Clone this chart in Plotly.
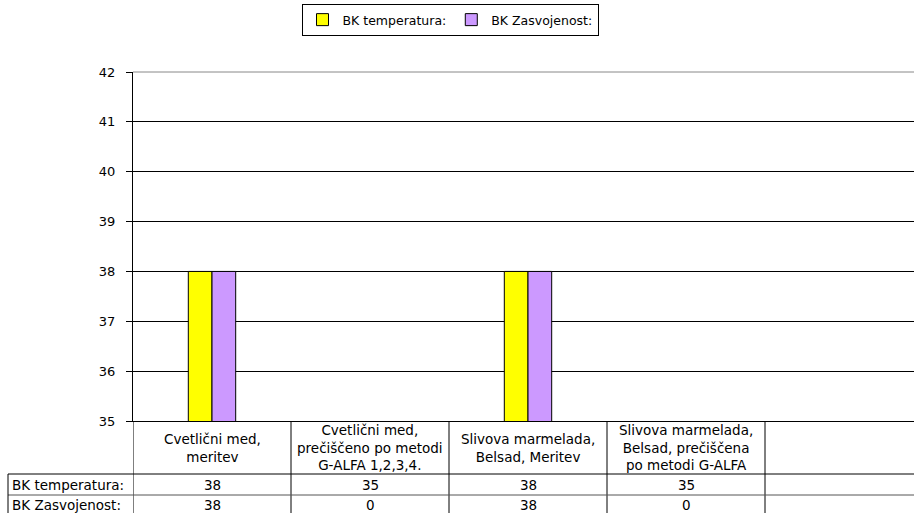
import plotly.graph_objects as go

# ---- data ----
categories = [
    "Cvetlični med,<br>meritev",
    "Cvetlični med,<br>prečiščeno po metodi<br>G-ALFA 1,2,3,4.",
    "Slivova marmelada,<br>Belsad, Meritev",
    "Slivova marmelada,<br>Belsad, prečiščena<br>po metodi G-ALFA",
    "",
]
series_names = ["BK temperatura:", "BK Zasvojenost:"]
bk_temperatura = [38, 35, 38, 35]
bk_zasvojenost = [38, 0, 38, 0]
series_colors = ["#FFFF00", "#CC99FF"]
y_ticks = [35, 36, 37, 38, 39, 40, 41, 42]

# ---- layout constants (pixels) ----
W, H = 914, 513
M_L, M_R, M_T, M_B = 133, 0, 72, 92
plot_h = H - M_T - M_B
plot_w = W - M_L - M_R
col_px = 158.0
FONT = "DejaVu Sans"
Y_MIN = y_ticks[0]


def py(pix):
    """pixel row -> paper y"""
    return (H - M_B - pix) / plot_h


def px(pix):
    return (pix - M_L) / plot_w


x_pos = list(range(len(categories)))
x_max = -0.5 + plot_w / col_px

fig = go.Figure()
for name, vals, col in zip(series_names, [bk_temperatura, bk_zasvojenost], series_colors):
    fig.add_trace(go.Bar(
        x=x_pos[:len(vals)], y=vals, name=name,
        marker=dict(color=col, line=dict(color="#000000",
                                         width=[1 if v > Y_MIN else 0 for v in vals])),
    ))

shapes = []
annotations = []
row1 = 474  # bottom of header row
row2 = 495  # bottom of first data row
bottom = H + 5

# vertical column borders in table
for i in range(len(categories)):
    shapes.append(dict(type="line", xref="x", yref="paper", x0=i + 0.5, x1=i + 0.5,
                       y0=0, y1=py(bottom), line=dict(color="#000000", width=1)))
# y axis extension through table
shapes.append(dict(type="line", xref="x", yref="paper", x0=-0.5, x1=-0.5,
                   y0=0, y1=py(bottom), line=dict(color="#000000", width=1)))
# horizontal table lines
for r, c in [(row1, "#000000"), (row2, "#555555")]:
    shapes.append(dict(type="line", xref="paper", yref="paper", x0=px(8), x1=1.0,
                       y0=py(r), y1=py(r), line=dict(color=c, width=1)))
# left border of row-label column
shapes.append(dict(type="line", xref="paper", yref="paper", x0=px(8), x1=px(8),
                   y0=py(row1), y1=py(bottom), line=dict(color="#000000", width=1)))
# top border of plot area (grey, as in reference)
shapes.append(dict(type="line", xref="paper", yref="paper", x0=0, x1=1, y0=1, y1=1,
                   line=dict(color="#888888", width=1)))

# category labels in header row
for i, cat in enumerate(categories):
    if cat:
        annotations.append(dict(x=i, y=py((421 + row1) / 2), xref="x", yref="paper",
                                text=cat, showarrow=False, xanchor="center", yanchor="middle",
                                align="center", font=dict(family=FONT, size=13.5, color="#000")))
# row labels and values
row_centers = [(row1 + row2) / 2, (row2 + 514) / 2]
for name, vals, rc in zip(series_names, [bk_temperatura, bk_zasvojenost], row_centers):
    annotations.append(dict(x=px(10), y=py(rc), xref="paper", yref="paper", text=name,
                            showarrow=False, xanchor="left", yanchor="middle",
                            font=dict(family=FONT, size=13.5, color="#000")))
    for i, v in enumerate(vals):
        annotations.append(dict(x=i, y=py(rc), xref="x", yref="paper", text=str(v),
                                showarrow=False, xanchor="center", yanchor="middle",
                                font=dict(family=FONT, size=13.5, color="#000")))

fig.update_layout(
    width=W, height=H,
    margin=dict(l=M_L, r=M_R, t=M_T, b=M_B, pad=0, autoexpand=False),
    paper_bgcolor="white", plot_bgcolor="white",
    barmode="group", bargap=0.70, bargroupgap=0.0,
    font=dict(family=FONT, size=13, color="#000"),
    showlegend=True,
    legend=dict(orientation="h", x=px(450), y=py(4), xanchor="center", yanchor="top",
                bordercolor="#000000", borderwidth=1, bgcolor="white",
                font=dict(family=FONT, size=12.5, color="#000"),
                itemwidth=30, tracegroupgap=0),
    xaxis=dict(range=[-0.5, x_max], showticklabels=False, ticks="", showgrid=False,
               zeroline=False, showline=True, linecolor="#000000", linewidth=1),
    yaxis=dict(range=[35, 42], tickvals=y_ticks, ticks="outside", ticklen=6,
               tickcolor="#000000", showline=True, linecolor="#000000", linewidth=1,
               showgrid=True, gridcolor="#000000", gridwidth=1, zeroline=False,
               ticklabelstandoff=8,
               tickfont=dict(family=FONT, size=13, color="#000")),
    shapes=shapes,
    annotations=annotations,
)

fig.write_html(
    "out.html",
    config={"displayModeBar": False},
    post_script="document.body.style.margin='0';document.body.style.overflow='hidden';",
)
